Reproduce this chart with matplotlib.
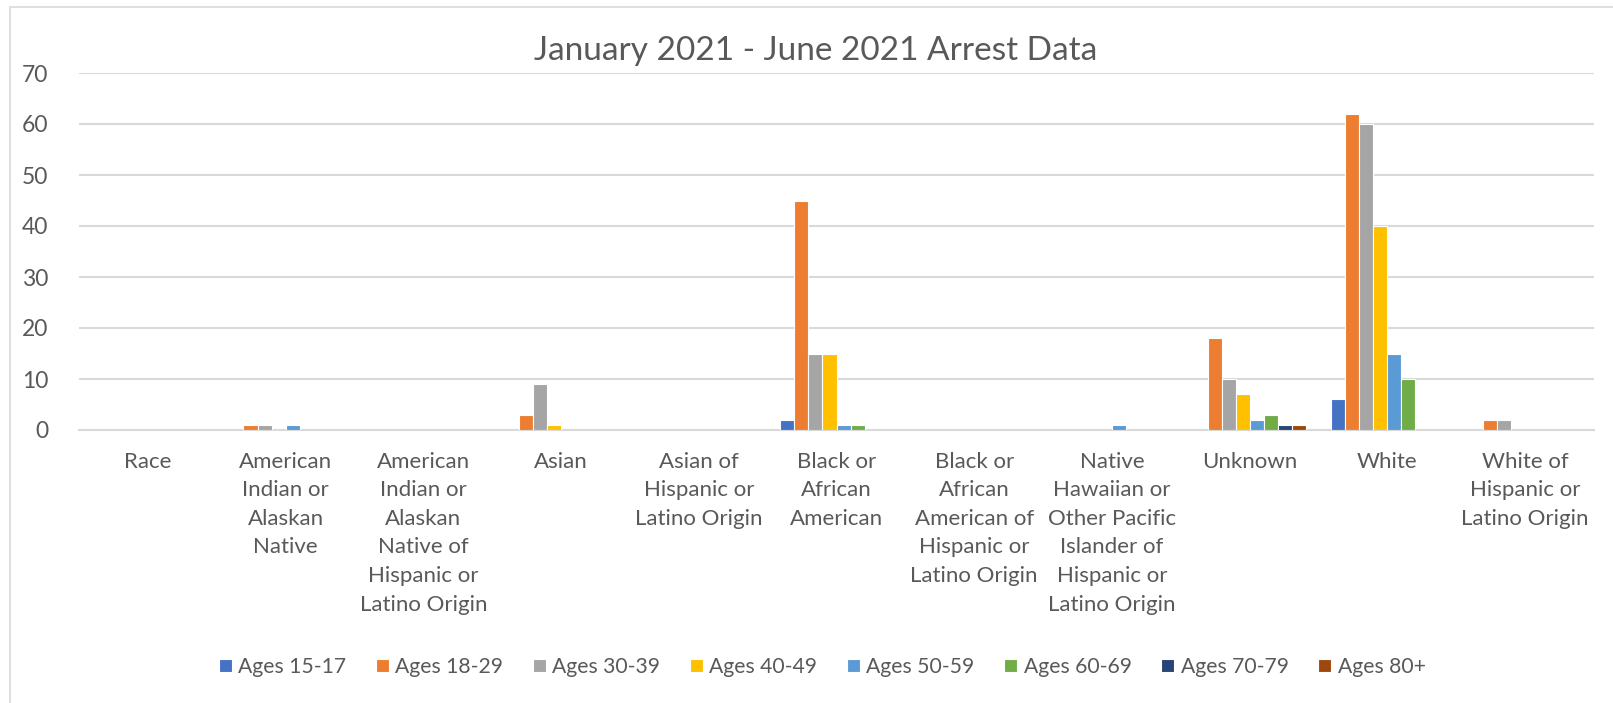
import matplotlib
matplotlib.use("Agg")
import matplotlib.pyplot as plt
import numpy as np
from matplotlib.patches import Rectangle

categories = [
    "Race",
    "American\nIndian or\nAlaskan\nNative",
    "American\nIndian or\nAlaskan\nNative of\nHispanic or\nLatino Origin",
    "Asian",
    "Asian of\nHispanic or\nLatino Origin",
    "Black or\nAfrican\nAmerican",
    "Black or\nAfrican\nAmerican of\nHispanic or\nLatino Origin",
    "Native\nHawaiian or\nOther Pacific\nIslander of\nHispanic or\nLatino Origin",
    "Unknown",
    "White",
    "White of\nHispanic or\nLatino Origin",
]

series_names = ["Ages 15-17", "Ages 18-29", "Ages 30-39", "Ages 40-49",
                "Ages 50-59", "Ages 60-69", "Ages 70-79", "Ages 80+"]

ages_15_17 = [0, 0, 0, 0, 0, 2, 0, 0, 0, 6, 0]
ages_18_29 = [0, 1, 0, 3, 0, 45, 0, 0, 18, 62, 2]
ages_30_39 = [0, 1, 0, 9, 0, 15, 0, 0, 10, 60, 2]
ages_40_49 = [0, 0, 0, 1, 0, 15, 0, 0, 7, 40, 0]
ages_50_59 = [0, 1, 0, 0, 0, 1, 0, 1, 2, 15, 0]
ages_60_69 = [0, 0, 0, 0, 0, 1, 0, 0, 3, 10, 0]
ages_70_79 = [0, 0, 0, 0, 0, 0, 0, 0, 1, 0, 0]
ages_80_plus = [0, 0, 0, 0, 0, 0, 0, 0, 1, 0, 0]

series_values = [ages_15_17, ages_18_29, ages_30_39, ages_40_49,
                 ages_50_59, ages_60_69, ages_70_79, ages_80_plus]

colors = ["#4472C4", "#ED7D31", "#A5A5A5", "#FFC000",
          "#5B9BD5", "#70AD47", "#264478", "#9E480E"]

yticks = [0, 10, 20, 30, 40, 50, 60, 70]

plt.rcParams['font.family'] = ['Lato', 'DejaVu Sans']
text_color = "#595959"

W, H = 1613, 703
fig = plt.figure(figsize=(W / 100, H / 100), dpi=100)

# chart border
fig.patches.append(Rectangle((10 / W, -0.01), 1.2, 1 - 7 / H + 0.01,
                             transform=fig.transFigure, fill=False,
                             edgecolor="#D9D9D9", linewidth=1.2))

left, right = 79 / W, 1594 / W
bottom, top = 1 - 430 / H, 1 - 73 / H
ax = fig.add_axes([left, bottom, right - left, top - bottom])

n_cat = len(categories)
n_ser = len(series_values)
x = np.arange(n_cat)
group_w = 0.815
bw = group_w / n_ser
for i, (vals, name, c) in enumerate(zip(series_values, series_names, colors)):
    offs = -group_w / 2 + bw * (i + 0.5)
    ax.bar(x + offs, vals, width=bw, color=c, edgecolor="white",
           linewidth=0.8, label=name, zorder=3)

ax.set_xlim(-0.5, n_cat - 0.5)
ax.set_ylim(0, 70)
ax.set_yticks(yticks)
ax.yaxis.grid(True, color="#D9D9D9", linewidth=1.5, zorder=0)
ax.set_axisbelow(True)
for s in ["left", "right", "top"]:
    ax.spines[s].set_visible(False)
ax.spines["bottom"].set_color("#D9D9D9")
ax.spines["bottom"].set_linewidth(1.5)
ax.tick_params(axis="y", length=0, pad=22, labelsize=16.5, labelcolor=text_color)
ax.tick_params(axis="x", length=0, pad=15.5, labelsize=16, labelcolor=text_color)
ax.set_xticks(x)
ax.set_xticklabels(categories, linespacing=1.54, va="top")

fig.text(816 / W, 1 - 51 / H, "January 2021 - June 2021 Arrest Data",
         ha="center", va="center", fontsize=24, color=text_color)

handles, labels = ax.get_legend_handles_labels()
leg = fig.legend(handles, labels, loc="center", bbox_to_anchor=(822 / W, 1 - 667 / H),
                 ncol=8, frameon=False, fontsize=15.2, handlelength=0.62,
                 handleheight=0.62, handletextpad=0.32, columnspacing=1.38,
                 labelcolor=text_color)

fig.savefig("out.png", dpi=100, facecolor="white")
